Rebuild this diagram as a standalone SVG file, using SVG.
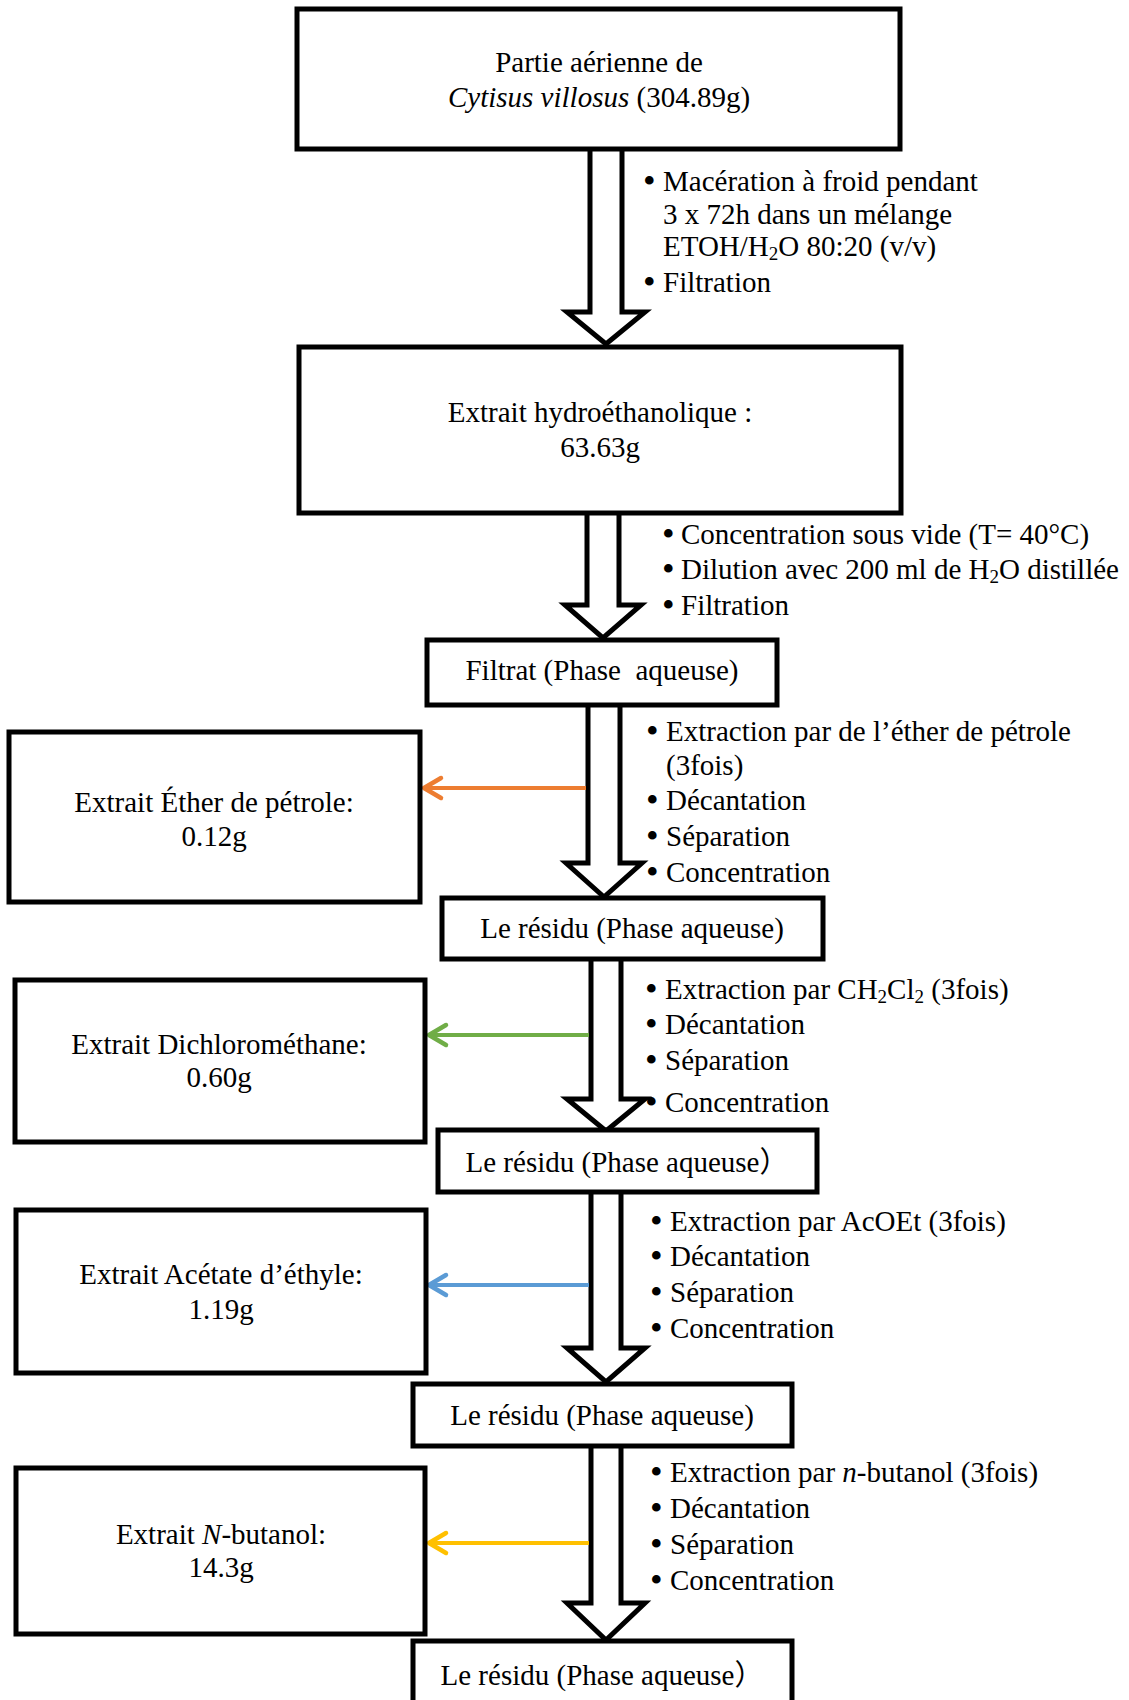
<svg xmlns="http://www.w3.org/2000/svg" width="1129" height="1700" viewBox="0 0 1129 1700">
<style>
.box{fill:#fff;stroke:#000;stroke-width:5}
.big{fill:#fff;stroke:#000;stroke-width:5;stroke-linejoin:miter}
text{font-family:"Liberation Serif","Times New Roman","Noto Sans CJK SC",serif;font-size:29px;fill:#000}
.c{text-anchor:middle}
.sub{font-size:19px}
.it{font-style:italic}
.b{font-size:36px}
.side{fill:none;stroke-width:4}
</style>
<defs>
<marker id="mo" viewBox="0 0 20 24" refX="18" refY="11" markerWidth="20" markerHeight="24" markerUnits="userSpaceOnUse" orient="auto" overflow="visible"><path d="M1,1 L18,11 L1,21" fill="none" stroke="#ED7D31" stroke-width="4.5" stroke-linecap="round" stroke-linejoin="round"/></marker>
<marker id="mg" viewBox="0 0 20 24" refX="18" refY="11" markerWidth="20" markerHeight="24" markerUnits="userSpaceOnUse" orient="auto" overflow="visible"><path d="M1,1 L18,11 L1,21" fill="none" stroke="#70AD47" stroke-width="4.5" stroke-linecap="round" stroke-linejoin="round"/></marker>
<marker id="mb" viewBox="0 0 20 24" refX="18" refY="11" markerWidth="20" markerHeight="24" markerUnits="userSpaceOnUse" orient="auto" overflow="visible"><path d="M1,1 L18,11 L1,21" fill="none" stroke="#5B9BD5" stroke-width="4.5" stroke-linecap="round" stroke-linejoin="round"/></marker>
<marker id="my" viewBox="0 0 20 24" refX="18" refY="11" markerWidth="20" markerHeight="24" markerUnits="userSpaceOnUse" orient="auto" overflow="visible"><path d="M1,1 L18,11 L1,21" fill="none" stroke="#FFC000" stroke-width="4.5" stroke-linecap="round" stroke-linejoin="round"/></marker>
</defs>
<rect width="1129" height="1700" fill="#fff"/>

<g id="connectors">
<path class="big" d="M590,147 V312 H567 L606,344 L645,312 H622 V147"/>
<path class="big" d="M587,511 V605 H565 L603,638 L641,605 H619 V511"/>
<path class="big" d="M588,703 V863 H566 L604,897 L642,863 H620 V703"/>
<path class="big" d="M591,957 V1099 H567 L606,1131 L645,1099 H621 V957"/>
<path class="big" d="M591,1190 V1348 H567 L606,1382 L645,1348 H621 V1190"/>
<path class="big" d="M591,1444 V1603 H567 L606,1640 L645,1603 H621 V1444"/>
<line class="side" x1="586" y1="788" x2="424" y2="788" stroke="#ED7D31" marker-end="url(#mo)"/>
<line class="side" x1="589" y1="1035" x2="429" y2="1035" stroke="#70AD47" marker-end="url(#mg)"/>
<line class="side" x1="589" y1="1285" x2="429" y2="1285" stroke="#5B9BD5" marker-end="url(#mb)"/>
<line class="side" x1="589" y1="1543" x2="429" y2="1543" stroke="#FFC000" marker-end="url(#my)"/>
</g>

<g id="step1-text">
<text><tspan class="b" x="643" y="193">•</tspan><tspan x="663" y="191">Macération à froid pendant</tspan></text>
<text x="663" y="224">3 x 72h dans un mélange</text>
<text x="663" y="256">ETOH/H<tspan class="sub" dy="4">2</tspan><tspan dy="-4">O 80:20 (v/v)</tspan></text>
<text><tspan class="b" x="643" y="294">•</tspan><tspan x="663" y="292">Filtration</tspan></text>
</g>
<g id="step2-text">
<text><tspan class="b" x="662" y="546">•</tspan><tspan x="681" y="544">Concentration sous vide (T= 40°C)</tspan></text>
<text><tspan class="b" x="662" y="581">•</tspan><tspan x="681" y="579">Dilution avec 200 ml de H</tspan><tspan class="sub" dy="4">2</tspan><tspan dy="-4">O distillée</tspan></text>
<text><tspan class="b" x="662" y="617">•</tspan><tspan x="681" y="615">Filtration</tspan></text>
</g>
<g id="step3-text">
<text><tspan class="b" x="646" y="743">•</tspan><tspan x="666" y="741">Extraction par de l’éther de pétrole</tspan></text>
<text x="666" y="775">(3fois)</text>
<text><tspan class="b" x="646" y="812">•</tspan><tspan x="666" y="810">Décantation</tspan></text>
<text><tspan class="b" x="646" y="848">•</tspan><tspan x="666" y="846">Séparation</tspan></text>
<text><tspan class="b" x="646" y="884">•</tspan><tspan x="666" y="882">Concentration</tspan></text>
</g>
<g id="step4-text">
<text><tspan class="b" x="645" y="1001">•</tspan><tspan x="665" y="999">Extraction par CH</tspan><tspan class="sub" dy="4">2</tspan><tspan dy="-4">Cl</tspan><tspan class="sub" dy="4">2</tspan><tspan dy="-4"> (3fois)</tspan></text>
<text><tspan class="b" x="645" y="1036">•</tspan><tspan x="665" y="1034">Décantation</tspan></text>
<text><tspan class="b" x="645" y="1072">•</tspan><tspan x="665" y="1070">Séparation</tspan></text>
<text><tspan class="b" x="645" y="1114">•</tspan><tspan x="665" y="1112">Concentration</tspan></text>
</g>
<g id="step5-text">
<text><tspan class="b" x="650" y="1233">•</tspan><tspan x="670" y="1231">Extraction par AcOEt (3fois)</tspan></text>
<text><tspan class="b" x="650" y="1268">•</tspan><tspan x="670" y="1266">Décantation</tspan></text>
<text><tspan class="b" x="650" y="1304">•</tspan><tspan x="670" y="1302">Séparation</tspan></text>
<text><tspan class="b" x="650" y="1340">•</tspan><tspan x="670" y="1338">Concentration</tspan></text>
</g>
<g id="step6-text">
<text><tspan class="b" x="650" y="1484">•</tspan><tspan x="670" y="1482">Extraction par </tspan><tspan class="it">n</tspan><tspan>-butanol (3fois)</tspan></text>
<text><tspan class="b" x="650" y="1520">•</tspan><tspan x="670" y="1518">Décantation</tspan></text>
<text><tspan class="b" x="650" y="1556">•</tspan><tspan x="670" y="1554">Séparation</tspan></text>
<text><tspan class="b" x="650" y="1592">•</tspan><tspan x="670" y="1590">Concentration</tspan></text>
</g>

<g id="node-plant">
<rect class="box" x="297" y="9" width="603" height="140"/>
<text class="c" x="599" y="72">Partie aérienne de</text>
<text class="c" x="599" y="107"><tspan class="it">Cytisus villosus</tspan> (304.89g)</text>
</g>
<g id="node-hydro">
<rect class="box" x="299" y="347" width="602" height="166"/>
<text class="c" x="600" y="422">Extrait hydroéthanolique :</text>
<text class="c" x="600" y="457">63.63g</text>
</g>
<g id="node-filtrat">
<rect class="box" x="427" y="640" width="350" height="65"/>
<text class="c" x="602" y="680" style="white-space:pre">Filtrat (Phase  aqueuse)</text>
</g>
<g id="node-ether">
<rect class="box" x="9" y="732" width="411" height="170"/>
<text class="c" x="214" y="812">Extrait Éther de pétrole:</text>
<text class="c" x="214" y="846">0.12g</text>
</g>
<g id="node-residu1">
<rect class="box" x="442" y="898" width="381" height="61"/>
<text class="c" x="632" y="938">Le résidu (Phase aqueuse)</text>
</g>
<g id="node-dcm">
<rect class="box" x="15" y="980" width="410" height="162"/>
<text class="c" x="219" y="1054">Extrait Dichlorométhane:</text>
<text class="c" x="219" y="1087">0.60g</text>
</g>
<g id="node-residu2">
<rect class="box" x="438" y="1130" width="379" height="62"/>
<text class="c" x="627" y="1172">Le résidu (Phase aqueuse）</text>
</g>
<g id="node-acoet">
<rect class="box" x="16" y="1210" width="410" height="163"/>
<text class="c" x="221" y="1284">Extrait Acétate d’éthyle:</text>
<text class="c" x="221" y="1319">1.19g</text>
</g>
<g id="node-residu3">
<rect class="box" x="413" y="1384" width="379" height="62"/>
<text class="c" x="602" y="1425">Le résidu (Phase aqueuse)</text>
</g>
<g id="node-butanol">
<rect class="box" x="16" y="1468" width="409" height="166"/>
<text class="c" x="221" y="1544">Extrait <tspan class="it">N</tspan>-butanol:</text>
<text class="c" x="221" y="1577">14.3g</text>
</g>
<g id="node-residu4">
<rect class="box" x="413" y="1641" width="379" height="90"/>
<text class="c" x="602" y="1685">Le résidu (Phase aqueuse）</text>
</g>
</svg>
